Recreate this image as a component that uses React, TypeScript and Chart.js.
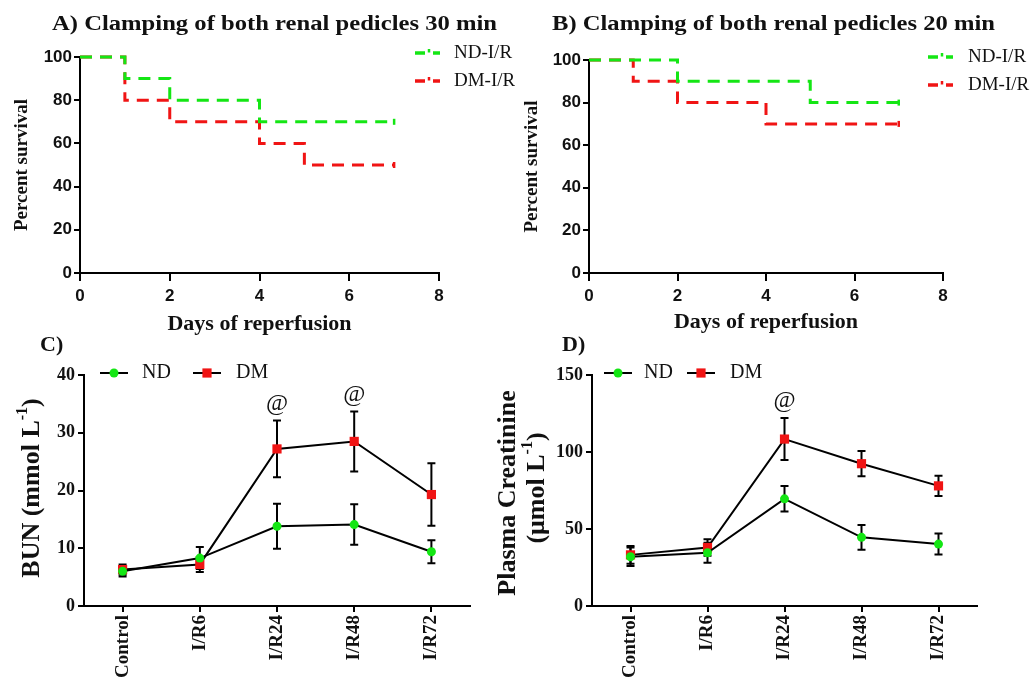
import React, { useEffect, useRef } from 'react';
import { Chart, registerables } from 'chart.js';

Chart.register(...registerables);

const SERIF = "'Liberation Serif', 'Times New Roman', serif";
const SANS = "'Liberation Sans', Arial, sans-serif";
const GREEN = '#14e614';
const RED = '#f01414';
const INK = '#111';

// Kaplan–Meier survival after 30 min clamping
const daysNd30 = [0, 1, 2, 4, 7];
const survivalNd30 = [100, 90, 80, 70, 70];
const daysDm30 = [0, 1, 2, 4, 5, 7];
const survivalDm30 = [100, 80, 70, 60, 50, 50];

// Kaplan–Meier survival after 20 min clamping
const daysNd20 = [0, 2, 5, 7];
const survivalNd20 = [100, 90, 80, 80];
const daysDm20 = [0, 1, 2, 4, 7];
const survivalDm20 = [100, 90, 80, 70, 70];

const dayTicks = [0, 2, 4, 6, 8];
const survivalTicks = [0, 20, 40, 60, 80, 100];

// Renal function over the reperfusion time course (mean ± SEM)
const timepoints = ['Control', 'I/R6', 'I/R24', 'I/R48', 'I/R72'];
const bunNd = [6.0, 8.3, 13.8, 14.1, 9.4];
const bunNdErr = [0.9, 1.9, 3.9, 3.5, 2.0];
const bunDm = [6.3, 7.2, 27.2, 28.5, 19.3];
const bunDmErr = [0.9, 1.3, 4.9, 5.2, 5.4];
const bunTicks = [0, 10, 20, 30, 40];
const bunSignificant = [2, 3];

const creaNd = [32.0, 34.6, 69.6, 44.6, 40.2];
const creaNdErr = [6.0, 6.5, 8.3, 8.0, 6.8];
const creaDm = [33.2, 38.0, 108.4, 92.4, 78.0];
const creaDmErr = [5.8, 5.3, 13.6, 8.2, 6.6];
const creaTicks = [0, 50, 100, 150];
const creaSignificant = [2];

type Part = { t: string; sup?: boolean };
type TextItem = {
  parts: string | Part[];
  x: number;
  y: number;
  size: number;
  weight?: string;
  family?: string;
  align?: 'left' | 'center';
  rotate?: boolean;
  width?: number;
};

function drawRich(ctx: CanvasRenderingContext2D, it: TextItem) {
  const parts: Part[] = typeof it.parts === 'string' ? [{ t: it.parts }] : it.parts;
  const fontFor = (sup?: boolean) =>
    `${it.weight || 'normal'} ${sup ? Math.round(it.size * 0.62) : it.size}px ${it.family || SERIF}`;
  ctx.save();
  ctx.translate(it.x, it.y);
  if (it.rotate) ctx.rotate(-Math.PI / 2);
  const widths = parts.map((p) => {
    ctx.font = fontFor(p.sup);
    return ctx.measureText(p.t).width;
  });
  const total = widths.reduce((a, b) => a + b, 0);
  if (it.width) ctx.scale(it.width / total, 1);
  let x = it.align === 'left' ? 0 : -total / 2;
  ctx.textAlign = 'left';
  ctx.textBaseline = 'middle';
  ctx.fillStyle = INK;
  parts.forEach((p, i) => {
    ctx.font = fontFor(p.sup);
    ctx.fillText(p.t, x, p.sup ? -it.size * 0.36 : 0);
    x += widths[i];
  });
  ctx.restore();
}

const textPlugin = (items: TextItem[]) => ({
  id: 'panelText',
  afterDraw(chart: any) {
    items.forEach((it) => drawRich(chart.ctx, it));
  },
});

// Legend for the survival curves: short dash, raised tick, short dash
const survivalKeyPlugin = (x: number, textX: number, ys: number[]) => ({
  id: 'survivalKey',
  afterDraw(chart: any) {
    const ctx = chart.ctx as CanvasRenderingContext2D;
    chart.data.datasets.forEach((ds: any, i: number) => {
      const y = ys[i];
      ctx.save();
      ctx.strokeStyle = ds.borderColor;
      ctx.lineWidth = 3.5;
      ctx.beginPath();
      ctx.moveTo(x, y);
      ctx.lineTo(x + 10, y);
      ctx.moveTo(x + 18, y);
      ctx.lineTo(x + 25, y);
      ctx.stroke();
      ctx.lineWidth = 2.5;
      ctx.beginPath();
      ctx.moveTo(x + 14, y - 4);
      ctx.lineTo(x + 14, y - 0.5);
      ctx.stroke();
      ctx.fillStyle = INK;
      ctx.font = `19px ${SERIF}`;
      ctx.textBaseline = 'middle';
      ctx.fillText(ds.label, textX, y);
      ctx.restore();
    });
  },
});

// Legend for the time-course panels: line with the series marker
const markerKeyPlugin = (entries: { x: number; textX: number }[], y: number) => ({
  id: 'markerKey',
  afterDraw(chart: any) {
    const ctx = chart.ctx as CanvasRenderingContext2D;
    chart.data.datasets.forEach((ds: any, i: number) => {
      const { x, textX } = entries[i];
      ctx.save();
      ctx.strokeStyle = '#000';
      ctx.lineWidth = 2;
      ctx.beginPath();
      ctx.moveTo(x, y);
      ctx.lineTo(x + 28, y);
      ctx.stroke();
      ctx.fillStyle = ds.pointBackgroundColor;
      const cx = x + 14;
      if (ds.pointStyle === 'rect') {
        const h = ds.pointRadius * Math.SQRT1_2;
        ctx.fillRect(cx - h, y - h, 2 * h, 2 * h);
      } else {
        ctx.beginPath();
        ctx.arc(cx, y, ds.pointRadius, 0, Math.PI * 2);
        ctx.fill();
      }
      ctx.fillStyle = INK;
      ctx.font = `20px ${SERIF}`;
      ctx.textBaseline = 'middle';
      ctx.fillText(ds.label, textX, y);
      ctx.restore();
    });
  },
});

const errorBarPlugin = (errors: number[][]) => ({
  id: 'errorBars',
  beforeDatasetsDraw(chart: any) {
    const ctx = chart.ctx as CanvasRenderingContext2D;
    const yScale = chart.scales.y;
    ctx.save();
    ctx.strokeStyle = '#000';
    ctx.lineWidth = 2;
    chart.data.datasets.forEach((ds: any, i: number) => {
      const meta = chart.getDatasetMeta(i);
      (ds.data as number[]).forEach((v, j) => {
        const e = errors[i][j];
        const px = meta.data[j].x;
        const top = yScale.getPixelForValue(v + e);
        const bot = yScale.getPixelForValue(v - e);
        ctx.beginPath();
        ctx.moveTo(px, top);
        ctx.lineTo(px, bot);
        ctx.moveTo(px - 4, top);
        ctx.lineTo(px + 4, top);
        ctx.moveTo(px - 4, bot);
        ctx.lineTo(px + 4, bot);
        ctx.stroke();
      });
    });
    ctx.restore();
  },
});

const significancePlugin = (datasetIndex: number, indices: number[], errors: number[]) => ({
  id: 'significance',
  afterDatasetsDraw(chart: any) {
    const ctx = chart.ctx as CanvasRenderingContext2D;
    const ds = chart.data.datasets[datasetIndex];
    const meta = chart.getDatasetMeta(datasetIndex);
    ctx.save();
    ctx.fillStyle = INK;
    ctx.font = `24px ${SERIF}`;
    ctx.textAlign = 'center';
    ctx.textBaseline = 'middle';
    indices.forEach((j) => {
      const py = chart.scales.y.getPixelForValue(ds.data[j] + errors[j]) - 17;
      ctx.fillText('@', meta.data[j].x, py);
    });
    ctx.restore();
  },
});

const points = (xs: number[], ys: number[]) => xs.map((x, i) => ({ x, y: ys[i] }));
const censorMark = (n: number) => Array.from({ length: n }, (_, i) => (i === n - 1 ? 3 : 0));

const axisGrid = (tickLength: number) => ({
  drawOnChartArea: false,
  drawTicks: true,
  tickLength,
  color: '#000',
  lineWidth: 2,
});
const axisBorder = { color: '#000', width: 2 };

function survivalDataset(label: string, color: string, xs: number[], ys: number[]) {
  return {
    label,
    data: points(xs, ys),
    borderColor: color,
    backgroundColor: color,
    borderWidth: 3,
    borderDash: [12, 8],
    stepped: true,
    fill: false,
    clip: false as any,
    pointStyle: 'line',
    rotation: 90,
    pointRadius: censorMark(xs.length),
    pointBorderColor: color,
    pointBorderWidth: 2.5,
  };
}

function survivalConfig(opts: {
  title: string;
  titleX: number;
  titleWidth: number;
  nd: [number[], number[]];
  dm: [number[], number[]];
  padTop: number;
  padRight: number;
  yWidth: number;
  yTitlePad: number;
  xTitlePad: number;
  keyX: number;
  keyTextX: number;
  keyYs: number[];
}) {
  return {
    type: 'line',
    data: {
      datasets: [
        survivalDataset('ND-I/R', GREEN, opts.nd[0], opts.nd[1]),
        survivalDataset('DM-I/R', RED, opts.dm[0], opts.dm[1]),
      ],
    },
    options: {
      responsive: false,
      animation: false,
      events: [],
      layout: { padding: { left: 0, top: opts.padTop, right: opts.padRight, bottom: 0 } },
      plugins: { legend: { display: false }, tooltip: { enabled: false }, title: { display: false } },
      scales: {
        x: {
          type: 'linear',
          min: 0,
          max: 8,
          afterBuildTicks: (s: any) => {
            s.ticks = dayTicks.map((value) => ({ value }));
          },
          ticks: { color: INK, padding: 5, font: { family: SANS, size: 17, weight: 'bold' } },
          grid: axisGrid(8),
          border: axisBorder,
          title: {
            display: true,
            text: 'Days of reperfusion',
            color: INK,
            font: { family: SERIF, size: 22, weight: 'bold' },
            padding: { top: 0, bottom: opts.xTitlePad },
          },
          afterFit: (s: any) => {
            s.height = 67;
          },
        },
        y: {
          min: 0,
          max: 100,
          afterBuildTicks: (s: any) => {
            s.ticks = survivalTicks.map((value) => ({ value }));
          },
          ticks: { color: INK, padding: 2, font: { family: SANS, size: 17, weight: 'bold' } },
          grid: axisGrid(6),
          border: axisBorder,
          title: {
            display: true,
            text: 'Percent survival',
            color: INK,
            font: { family: SERIF, size: 19, weight: 'bold' },
            padding: { top: opts.yTitlePad, bottom: 0 },
          },
          afterFit: (s: any) => {
            s.width = opts.yWidth;
          },
        },
      },
    },
    plugins: [
      textPlugin([
        { parts: opts.title, x: opts.titleX, y: 25, size: 20, weight: 'bold', width: opts.titleWidth },
      ]),
      survivalKeyPlugin(opts.keyX, opts.keyTextX, opts.keyYs),
    ],
  };
}

function timeCourseConfig(opts: {
  nd: number[];
  ndErr: number[];
  dm: number[];
  dmErr: number[];
  yTicks: number[];
  significant: number[];
  padRight: number;
  yWidth: number;
  texts: TextItem[];
  key: { x: number; textX: number }[];
}) {
  const yMax = opts.yTicks[opts.yTicks.length - 1];
  return {
    type: 'line',
    data: {
      labels: timepoints,
      datasets: [
        {
          label: 'ND',
          data: opts.nd,
          borderColor: '#000',
          borderWidth: 2,
          fill: false,
          clip: false as any,
          pointStyle: 'circle',
          pointRadius: 4.5,
          pointBackgroundColor: GREEN,
          pointBorderColor: GREEN,
          pointBorderWidth: 0,
        },
        {
          label: 'DM',
          data: opts.dm,
          borderColor: '#000',
          borderWidth: 2,
          fill: false,
          clip: false as any,
          pointStyle: 'rect',
          pointRadius: 6.5,
          pointBackgroundColor: RED,
          pointBorderColor: RED,
          pointBorderWidth: 0,
        },
      ],
    },
    options: {
      responsive: false,
      animation: false,
      events: [],
      layout: { padding: { left: 0, top: 45, right: opts.padRight, bottom: 0 } },
      plugins: { legend: { display: false }, tooltip: { enabled: false }, title: { display: false } },
      scales: {
        x: {
          type: 'category',
          offset: true,
          ticks: {
            color: INK,
            padding: 3,
            autoSkip: false,
            minRotation: 90,
            maxRotation: 90,
            font: { family: SERIF, size: 19, weight: 'bold' },
          },
          grid: { ...axisGrid(6), offset: false },
          border: axisBorder,
          afterFit: (s: any) => {
            s.height = 73;
          },
        },
        y: {
          min: 0,
          max: yMax,
          afterBuildTicks: (s: any) => {
            s.ticks = opts.yTicks.map((value) => ({ value }));
          },
          ticks: { color: INK, padding: 3, font: { family: SERIF, size: 18, weight: 'bold' } },
          grid: axisGrid(6),
          border: axisBorder,
          afterFit: (s: any) => {
            s.width = opts.yWidth;
          },
        },
      },
    },
    plugins: [
      errorBarPlugin([opts.ndErr, opts.dmErr]),
      significancePlugin(1, opts.significant, opts.dmErr),
      markerKeyPlugin(opts.key, 43),
      textPlugin(opts.texts),
    ],
  };
}

function ChartPanel(props: { left: number; top: number; width: number; height: number; build: () => any }) {
  const ref = useRef<HTMLCanvasElement>(null);
  useEffect(() => {
    const chart = new Chart(ref.current as HTMLCanvasElement, props.build());
    return () => chart.destroy();
  }, []);
  return (
    <canvas
      ref={ref}
      width={props.width}
      height={props.height}
      style={{ position: 'absolute', left: props.left, top: props.top, width: props.width, height: props.height }}
    />
  );
}

export default function App() {
  return (
    <div style={{ position: 'absolute', left: 0, top: 0, width: 1031, height: 679, background: '#fff', overflow: 'hidden' }}>
      <ChartPanel
        left={0}
        top={0}
        width={515}
        height={340}
        build={() =>
          survivalConfig({
            title: 'A) Clamping of both renal pedicles 30 min',
            titleX: 274.5,
            titleWidth: 445,
            nd: [daysNd30, survivalNd30],
            dm: [daysDm30, survivalDm30],
            padTop: 57,
            padRight: 76,
            yWidth: 80,
            yTitlePad: 11,
            xTitlePad: 2,
            keyX: 415,
            keyTextX: 454,
            keyYs: [53, 81],
          })
        }
      />
      <ChartPanel
        left={515}
        top={0}
        width={516}
        height={340}
        build={() =>
          survivalConfig({
            title: 'B) Clamping of both renal pedicles 20 min',
            titleX: 258.5,
            titleWidth: 443,
            nd: [daysNd20, survivalNd20],
            dm: [daysDm20, survivalDm20],
            padTop: 60,
            padRight: 88,
            yWidth: 74,
            yTitlePad: 6,
            xTitlePad: 4,
            keyX: 413,
            keyTextX: 453,
            keyYs: [57, 85],
          })
        }
      />
      <ChartPanel
        left={0}
        top={330}
        width={490}
        height={349}
        build={() =>
          timeCourseConfig({
            nd: bunNd,
            ndErr: bunNdErr,
            dm: bunDm,
            dmErr: bunDmErr,
            yTicks: bunTicks,
            significant: bunSignificant,
            padRight: 20,
            yWidth: 84,
            key: [
              { x: 100, textX: 142 },
              { x: 193, textX: 236 },
            ],
            texts: [
              { parts: 'C)', x: 40, y: 15, size: 22, weight: 'bold', align: 'left' },
              {
                parts: [{ t: 'BUN (mmol L' }, { t: '-1', sup: true }, { t: ')' }],
                x: 32,
                y: 158,
                size: 26,
                weight: 'bold',
                rotate: true,
              },
            ],
          })
        }
      />
      <ChartPanel
        left={490}
        top={330}
        width={541}
        height={349}
        build={() =>
          timeCourseConfig({
            nd: creaNd,
            ndErr: creaNdErr,
            dm: creaDm,
            dmErr: creaDmErr,
            yTicks: creaTicks,
            significant: creaSignificant,
            padRight: 54,
            yWidth: 102,
            key: [
              { x: 114, textX: 154 },
              { x: 197, textX: 240 },
            ],
            texts: [
              { parts: 'D)', x: 72, y: 15, size: 22, weight: 'bold', align: 'left' },
              { parts: 'Plasma Creatinine', x: 18, y: 163, size: 26, weight: 'bold', rotate: true },
              {
                parts: [{ t: '(μmol L' }, { t: '-1', sup: true }, { t: ')' }],
                x: 47,
                y: 158,
                size: 26,
                weight: 'bold',
                rotate: true,
              },
            ],
          })
        }
      />
    </div>
  );
}
